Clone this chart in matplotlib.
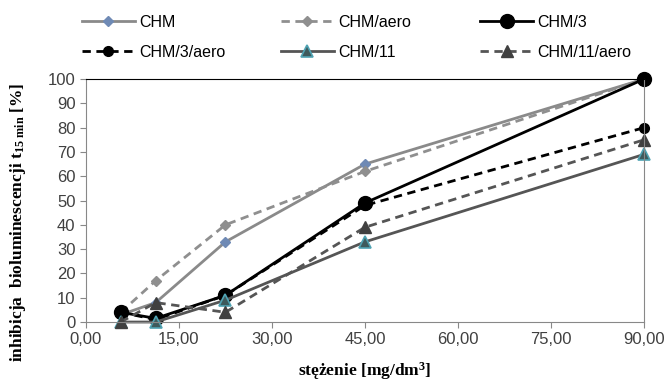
import matplotlib.pyplot as plt
from matplotlib.ticker import FuncFormatter

plt.rcParams['mathtext.fontset'] = 'custom'
plt.rcParams['mathtext.rm'] = 'Liberation Serif:bold'
plt.rcParams['mathtext.it'] = 'Liberation Serif:bold'
plt.rcParams['mathtext.bf'] = 'Liberation Serif:bold'

# stężenie [mg/dm3]
x = [5.625, 11.25, 22.5, 45, 90]

chm = [3, 8, 33, 65, 100]
chm_aero = [4, 17, 40, 62, 100]
chm3 = [4, 1.5, 11, 49, 100]
chm3_aero = [4, 1, 11, 48, 80]
chm11 = [0, 0, 9, 33, 69]
chm11_aero = [0, 8, 4, 39, 75]

fig = plt.figure(figsize=(6.66, 3.82), dpi=100)
ax = fig.add_axes([0.129, 0.157, 0.838, 0.636])

dash = (0, (3, 2))
h1, = ax.plot(x, chm, color='#8a8a8a', lw=2, marker='D', ms=5,
              mfc='#6f8ab5', mec='#6f8ab5', label='CHM', clip_on=False)
h2, = ax.plot(x, chm_aero, color='#8f8f8f', lw=2, ls=dash, marker='D', ms=5,
              mfc='#8f8f8f', mec='#8f8f8f', label='CHM/aero', clip_on=False)
h3, = ax.plot(x, chm3, color='black', lw=2, marker='o', ms=10, label='CHM/3',
              clip_on=False)
h4, = ax.plot(x, chm3_aero, color='black', lw=2, ls=dash, marker='o', ms=7,
              label='CHM/3/aero', clip_on=False)
h5, = ax.plot(x, chm11, color='#555555', lw=2, marker='^', ms=9,
              mfc='#3e5a5c', mec='#4fa3b3', mew=1.2, label='CHM/11', clip_on=False)
h6, = ax.plot(x, chm11_aero, color='#555555', lw=2, ls=dash, marker='^', ms=9,
              mfc='#404040', mec='#404040', label='CHM/11/aero', clip_on=False)

ax.set_xlim(0, 90)
ax.set_ylim(0, 100)
ax.set_xticks([0, 15, 30, 45, 60, 75, 90])
ax.set_yticks(range(0, 101, 10))
ax.xaxis.set_major_formatter(FuncFormatter(lambda v, p: f'{v:.2f}'.replace('.', ',')))
ax.tick_params(labelsize=12, labelcolor='#404040', color='#888888', length=4)
for lab in ax.get_xticklabels() + ax.get_yticklabels():
    lab.set_family('Liberation Sans')
for s in ['left', 'right', 'bottom']:
    ax.spines[s].set_color('#888888')
ax.spines['top'].set_color('black')

ax.set_xlabel('stężenie [mg/dm$^3$]', family='Liberation Serif', weight='bold',
              fontsize=12.5)
ax.xaxis.set_label_coords(0.5, -0.155)
ax.set_ylabel('inhibicja  bioluminescencji t$_{15\\ \\mathrm{min}}$ [%]',
              family='Liberation Serif', weight='bold', fontsize=12.5)
ax.yaxis.set_label_coords(-0.104, 0.41)

# three one-column legends, so the rows read across like the original
cols = [([h1, h4], 0.123), ([h2, h5], 0.422), ([h3, h6], 0.721)]
for hs, xpos in cols:
    fig.legend(handles=hs, loc='upper left', bbox_to_anchor=(xpos, 0.962),
               frameon=False, borderpad=0, borderaxespad=0,
               prop={'family': 'Liberation Sans', 'size': 11.5},
               handlelength=3.3, handletextpad=0.3, labelspacing=0.95)

fig.savefig('out.png', dpi=100)
